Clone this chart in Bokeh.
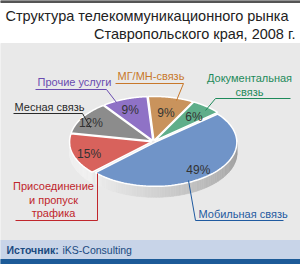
import numpy as np
from bokeh.plotting import figure
from bokeh.models import Range1d
from bokeh.core.properties import value
from bokeh.embed import file_html
from bokeh.resources import INLINE

# ---- data ----
categories = ["МГ/МН-связь", "Документальная связь", "Мобильная связь",
              "Присоединение и пропуск трафика", "Месная связь", "Прочие услуги"]
shares = [9, 6, 49, 15, 12, 9]
pct_labels = ["9%", "6%", "49%", "15%", "12%", "9%"]
title_lines = ["Структура телекоммуникационного рынка", "Ставропольского края, 2008 г."]
source_label = "Источник:"
source_name = "iKS-Consulting"

# ---- styles ----
slice_colors = ["#c9935c", "#5fae8a", "#7094c8", "#d8625c", "#8c8c8c", "#8f72c6"]
label_colors = ["#c8782a", "#1e8a5a", "#1f5aa0", "#c0262c", "#2a2a2a", "#6a4cb0"]
FONT = "Liberation Sans"

W, H = 300, 264
p = figure(width=W, height=H, x_range=Range1d(0, W), y_range=Range1d(H, 0),
           output_backend="svg", toolbar_location=None, min_border=0,
           x_axis_type=None, y_axis_type=None)
p.grid.visible = False
p.outline_line_color = None
p.background_fill_color = "white"
p.border_fill_color = "white"

# background panels
p.quad(left=[0], right=[W], top=[0], bottom=[2], color="#555555")
p.quad(left=[0], right=[W], top=[43], bottom=[240], color="#e9e9e9")
p.quad(left=[0], right=[W], top=[240], bottom=[259], color="#c8d4e8")
p.quad(left=[0], right=[W], top=[259], bottom=[H], color="#1d5b98")

# title
p.text(x=[5], y=[15], text=[title_lines[0]], text_font=value(FONT), text_font_size="14.5px",
       text_color="#222222", text_baseline="middle", text_align="left")
p.text(x=[295], y=[33], text=[title_lines[1]], text_font=value(FONT), text_font_size="14.5px",
       text_color="#222222", text_baseline="middle", text_align="right")

# ---- pie ----
cx, cy, rx, ry, depth = 153, 141, 82, 44, 11
start = -4.0
explode = 2.0
edges = start + np.cumsum([0] + shares) * 3.6

side_xs, side_ys, side_cols = [], [], []
top_xs, top_ys = [], []
mids = []
for i in range(len(shares)):
    a0, a1 = edges[i], edges[i + 1]
    mid = (a0 + a1) / 2
    mids.append(mid)
    ox = explode * np.sin(np.radians(mid))
    oy = -explode * np.cos(np.radians(mid)) * ry / rx
    s0, s1 = max(a0, 90), min(a1, 270)
    if s1 > s0:
        steps = np.linspace(s0, s1, max(2, int((s1 - s0) / 2) + 2))
        for k in range(len(steps) - 1):
            t0, t1 = np.radians(steps[k]), np.radians(steps[k + 1])
            x0 = cx + ox + rx * np.sin(t0); y0 = cy + oy - ry * np.cos(t0)
            x1 = cx + ox + rx * np.sin(t1); y1 = cy + oy - ry * np.cos(t1)
            side_xs.append([x0, x1, x1, x0])
            side_ys.append([y0, y1, y1 + depth, y0 + depth])
            th = (steps[k] + steps[k + 1]) / 2
            frac = (th - 90) / 180
            g = int(155 + 85 * min(1, frac * 1.3))
            side_cols.append("#%02x%02x%02x" % (g, g, g))
    t = np.radians(np.linspace(a0, a1, 80))
    xs = list(cx + ox + rx * np.sin(t))
    ys = list(cy + oy - ry * np.cos(t))
    top_xs.append([cx + ox] + xs)
    top_ys.append([cy + oy] + ys)

p.patches(side_xs, side_ys, fill_color=side_cols, line_color=side_cols, line_width=0.6)
p.patches(top_xs, top_ys, fill_color=slice_colors, line_color="white", line_width=1.5)

# percentage labels
rfac = [0.72, 0.78, 0.82, 0.82, 0.9, 0.82]
px = [cx + f * rx * np.sin(np.radians(m)) for f, m in zip(rfac, mids)]
py = [cy - f * ry * np.cos(np.radians(m)) + 2 for f, m in zip(rfac, mids)]
p.text(x=px, y=py, text=pct_labels, text_font=value(FONT), text_font_size="12px",
       text_color="#333333", text_baseline="middle", text_align="center")

# ---- callouts ----
def lab(x, y, txt, col, align="left", size="11px"):
    p.text(x=[x], y=[y], text=[txt], text_font=value(FONT), text_font_size=size,
           text_color=col, text_baseline="middle", text_align=align)

def leader(xs, ys, col):
    p.line(x=xs, y=ys, line_color=col, line_width=1)

lab(117, 75, categories[0], label_colors[0])
leader([115, 183, 176], [83, 83, 100], label_colors[0])
lab(249, 77, "Документальная", label_colors[1], align="center")
lab(249, 91, "связь", label_colors[1], align="center")
leader([290, 215, 205], [98, 98, 110], label_colors[1])
lab(198, 213, categories[2], label_colors[2])
leader([283, 195, 188], [220, 220, 180], label_colors[2])
lab(53, 185, "Присоединение", label_colors[3], align="center")
lab(53, 199, "и пропуск", label_colors[3], align="center")
lab(53, 212, "трафика", label_colors[3], align="center")
leader([15, 97, 97], [220, 220, 173], label_colors[3])
lab(14, 106, categories[4], label_colors[4])
leader([13, 82, 90], [113, 113, 127], label_colors[4])
lab(37, 81, categories[5], label_colors[5])
leader([35, 106, 116], [89, 89, 102], label_colors[5])

# source
p.text(x=[6], y=[249.5], text=[source_label], text_font=value(FONT), text_font_size="10.5px",
       text_font_style="bold", text_color="#1a4a80", text_baseline="middle", text_align="left")
p.text(x=[62], y=[249.5], text=[source_name], text_font=value(FONT), text_font_size="10.5px",
       text_color="#1a4a80", text_baseline="middle", text_align="left")

open("out.html", "w").write(file_html(p, INLINE))
